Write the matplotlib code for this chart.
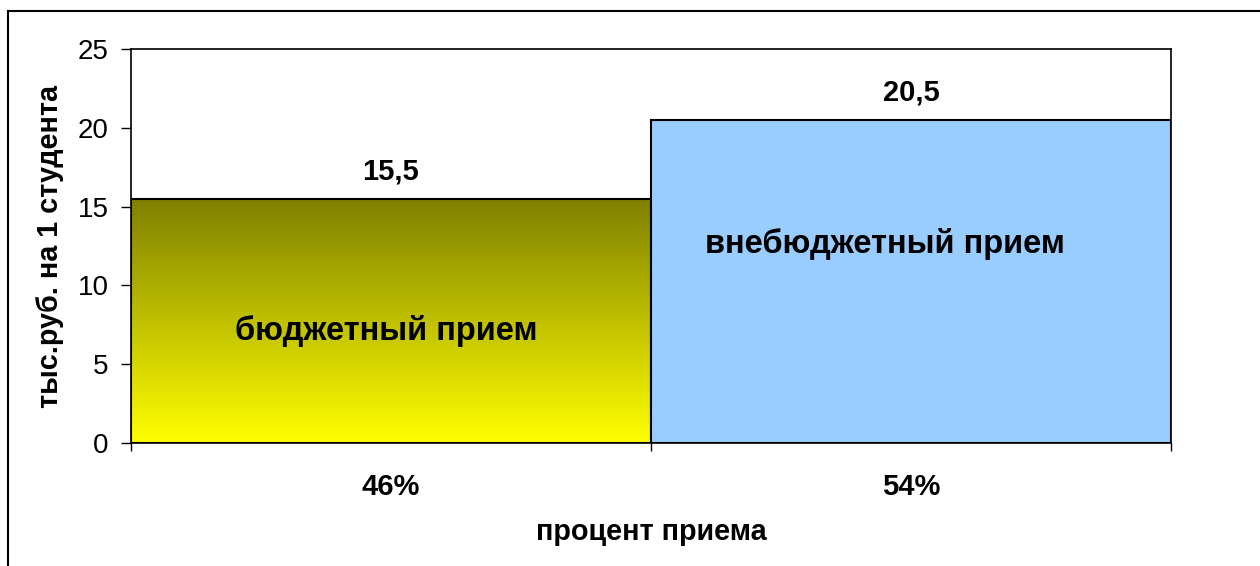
import matplotlib
matplotlib.use("Agg")
import matplotlib.pyplot as plt
import numpy as np
from matplotlib.colors import LinearSegmentedColormap
from matplotlib.lines import Line2D

plt.rcParams['font.family'] = ['Liberation Sans', 'DejaVu Sans']

categories = ["46%", "54%"]
values = [15.5, 20.5]
value_labels = ["15,5", "20,5"]
bar_names = ["бюджетный прием", "внебюджетный прием"]
y_ticks = [0, 5, 10, 15, 20, 25]

W, H = 1260, 566
fig = plt.figure(figsize=(W / 100, H / 100), dpi=100)
ax = fig.add_axes([131 / W, 1 - 443 / H, (1171 - 131) / W, (443 - 49) / H])

x = np.arange(len(categories))
bars = ax.bar(x, values, width=1.0, edgecolor='black', linewidth=1.5,
              color=['none', '#99CCFF'], zorder=3)

# gradient for first bar
cmap = LinearSegmentedColormap.from_list('oy', ['#FFFF00', '#808000'])
b0 = bars[0]
grad = np.linspace(0, 1, 256).reshape(-1, 1)
im = ax.imshow(grad, cmap=cmap, aspect='auto', origin='lower',
               extent=[b0.get_x(), b0.get_x() + b0.get_width(), 0, b0.get_height()],
               zorder=2)
im.set_clip_path(b0)

ax.set_xlim(-0.5, 1.5)
ax.set_ylim(0, 25)
ax.set_yticks(y_ticks)
ax.set_yticklabels([str(t) for t in y_ticks], fontsize=20)
ax.tick_params(axis='y', length=7, width=1, pad=9)

ax.set_xticks([-0.5, 0.5, 1.5])
ax.set_xticklabels([])
ax.tick_params(axis='x', which='major', length=6, width=1, direction='out')
ax.set_xticks(x, minor=True)
ax.set_xticklabels(categories, minor=True, fontsize=21, fontweight='bold')
ax.tick_params(axis='x', which='minor', length=0, pad=21.5)

for s in ax.spines.values():
    s.set_linewidth(1.2)
    s.set_color('black')

for xi, v, lab in zip(x, values, value_labels):
    ax.annotate(lab, (xi, v), xytext=(0, 19.5), textcoords='offset points',
                ha='center', va='center', fontsize=21, fontweight='bold')

ax.text(-0.01, 7.1, bar_names[0], ha='center', va='center', fontsize=23.5,
        fontweight='bold', zorder=4)
ax.text(0.95, 12.6, bar_names[1], ha='center', va='center', fontsize=23.5,
        fontweight='bold', zorder=4)

ax.set_xlabel("процент приема", fontsize=20.7, fontweight='bold', labelpad=12)
ax.set_ylabel("тыс.руб. на 1 студента", fontsize=20.7, fontweight='bold', labelpad=10)

# outer frame (left and top visible)
fig.add_artist(Line2D([8 / W, 8 / W], [0, 1 - 11 / H], transform=fig.transFigure,
                      color='black', linewidth=1.5))
fig.add_artist(Line2D([8 / W, 1], [1 - 11 / H, 1 - 11 / H], transform=fig.transFigure,
                      color='black', linewidth=1.5))

fig.savefig("out.png", dpi=100)
